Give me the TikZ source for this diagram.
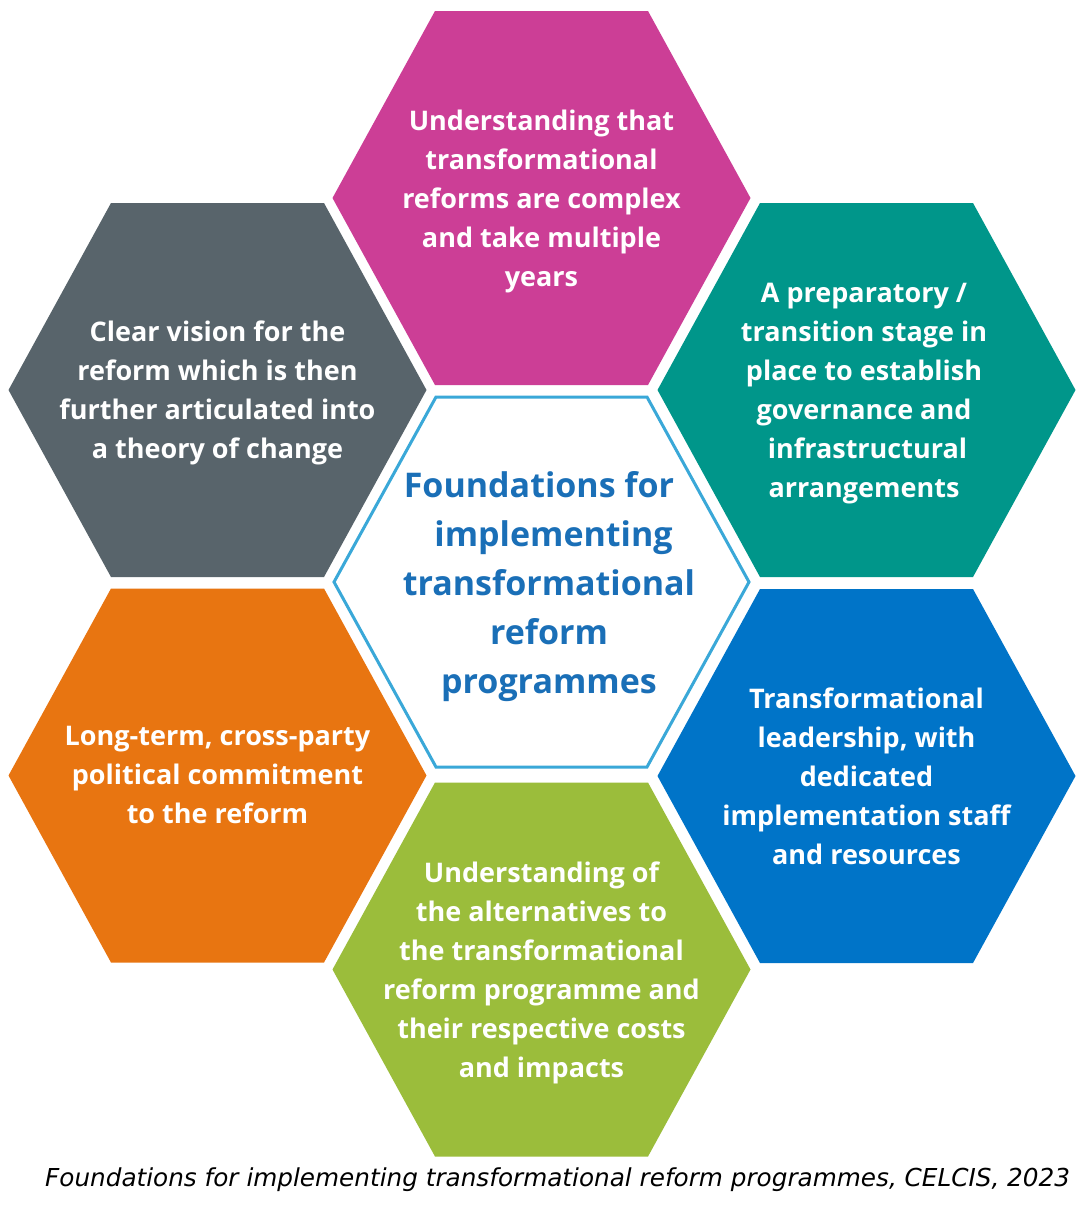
\documentclass[tikz,border=0pt]{standalone}
\usepackage{fontspec}
\setsansfont{Open Sans}
\newfontfamily\capfont{DejaVu Sans}
\definecolor{cMag}{HTML}{CC3E96}
\definecolor{cTeal}{HTML}{00968A}
\definecolor{cGray}{HTML}{58646B}
\definecolor{cOrange}{HTML}{E87511}
\definecolor{cBlue}{HTML}{0074C8}
\definecolor{cGreen}{HTML}{9BBD3B}
\definecolor{cLine}{HTML}{3AA8D8}
\definecolor{cTitle}{HTML}{1A6FB7}
\newcommand\myhex[2]{%
  \fill[#2,shift={(#1)}] (-209,0) -- (-106.5,-187) -- (106.5,-187) -- (209,0) -- (106.5,187) -- (-106.5,187) -- cycle;}
\begin{document}
\begin{tikzpicture}[x=1pt,y=-1pt,
  hextext/.style={font=\sffamily\bfseries\fontsize{27}{39}\selectfont, text=white, align=center, inner sep=0pt},
  titletext/.style={font=\sffamily\bfseries\fontsize{34}{49}\selectfont, text=cTitle, align=center, inner sep=0pt},
  captext/.style={font=\capfont\itshape\fontsize{24.7}{29}\selectfont, text=black, inner sep=0pt}
]
\path[fill=white] (0,0) rectangle (1088,1221);
\useasboundingbox (0,0) rectangle (1088,1221);
% hexagons
\myhex{541.5,198}{cMag}
\myhex{217.5,390}{cGray}
\myhex{866.5,390}{cTeal}
\myhex{217.5,775.5}{cOrange}
\myhex{866.5,776}{cBlue}
\myhex{541.5,969.5}{cGreen}
\draw[cLine, line width=3pt, fill=white, shift={(541.5,582)}]
  (-207.5,0) -- (-105.5,-185) -- (105.5,-185) -- (207.5,0) -- (105.5,185) -- (-105.5,185) -- cycle;
% texts
\node[hextext] (top) at (541.5,201) {Understanding that\\transformational\\reforms are complex\\and take multiple\\years};
\node[hextext] (gray) at (217.5,393) {Clear vision for the\\reform which is then\\further articulated into\\a theory of change};
\node[hextext] (teal) at (864,394) {A preparatory /\\transition stage in\\place to establish\\governance and\\\hspace*{7pt}infrastructural\\arrangements};
\node[hextext] (orange) at (217.5,775) {Long-term, cross-party\\political commitment\\to the reform};
\node[hextext] (blue) at (866.5,776) {Transformational\\leadership, with\\dedicated\\implementation staff\\and resources};
\node[hextext] (green) at (541.5,972.5) {Understanding of\\the alternatives to\\the transformational\\reform programme and\\their respective costs\\and impacts};
\node[titletext] (title) at (549,587) {Foundations for\hspace*{20pt}\\\hspace*{9pt}implementing\\transformational\\reform\\programmes};
\node[captext, anchor=base west] (cap) at (45,1186) {Foundations for implementing transformational reform programmes, CELCIS, 2023};
\end{tikzpicture}
\end{document}
